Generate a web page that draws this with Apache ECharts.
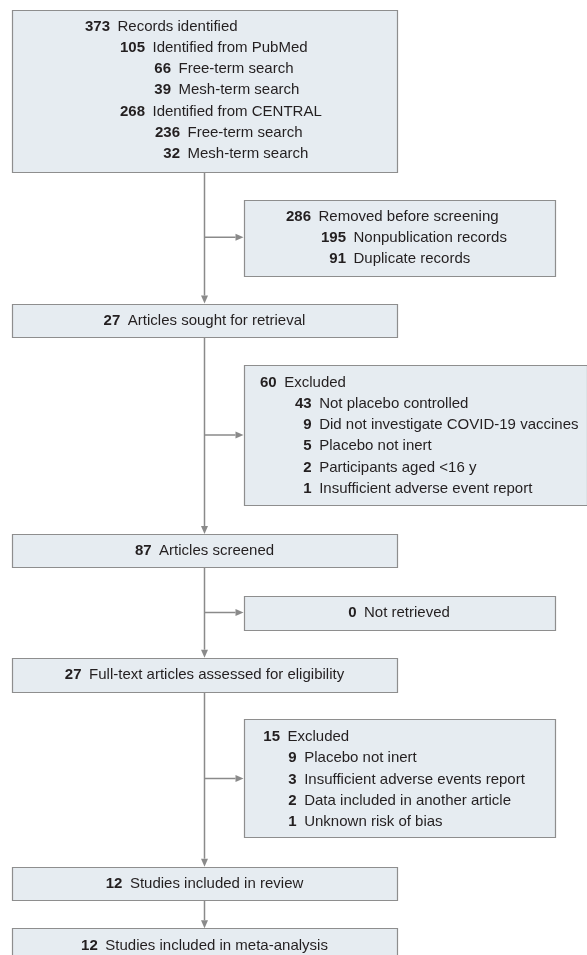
<!DOCTYPE html>
<html><head><meta charset="utf-8">
<script src="https://cdn.jsdelivr.net/npm/echarts@6/dist/echarts.min.js"></script>
<style>html,body{margin:0;padding:0;background:#fff}#c{width:587px;height:955px}</style>
</head><body><div id="c"></div>
<script>
// ---------- data ----------
const identifiedCounts = [373, 105, 66, 39, 268, 236, 32];
const identifiedLabels = ['Records identified', 'Identified from PubMed', 'Free-term search', 'Mesh-term search', 'Identified from CENTRAL', 'Free-term search', 'Mesh-term search'];
const removedCounts = [286, 195, 91];
const removedLabels = ['Removed before screening', 'Nonpublication records', 'Duplicate records'];
const excluded1Counts = [60, 43, 9, 5, 2, 1];
const excluded1Labels = ['Excluded', 'Not placebo controlled', 'Did not investigate COVID-19 vaccines', 'Placebo not inert', 'Participants aged <16 y', 'Insufficient adverse event report'];
const excluded2Counts = [15, 9, 3, 2, 1];
const excluded2Labels = ['Excluded', 'Placebo not inert', 'Insufficient adverse events report', 'Data included in another article', 'Unknown risk of bias'];
const mainCounts = [27, 87, 27, 12, 12];
const mainLabels = ['Articles sought for retrieval', 'Articles screened', 'Full-text articles assessed for eligibility', 'Studies included in review', 'Studies included in meta-analysis'];
const notRetrievedCounts = [0];
const notRetrievedLabels = ['Not retrieved'];

// ---------- layout & style ----------
const W = 587, H = 955;
const FONT = '"Liberation Sans", Arial, sans-serif';
const FS = 15;
const TEXT_COLOR = '#231f20';
const FILL = '#e6ecf1';
const BORDER = '#8e8e8e';
const LINE = '#8a8a8a';
const MAIN_X = 204.5;
const GAP = 7.5;

const boxes = [
  { id: 'identified', x0: 12, x1: 397, y0: 9.5, y1: 171, list: true, counts: identifiedCounts, labels: identifiedLabels, rowY0: 27, step: 21.1, numRight: [110, 145, 171, 171, 145, 180, 180] },
  { id: 'removed', x0: 243.5, x1: 554.5, y0: 199.5, y1: 275, list: true, counts: removedCounts, labels: removedLabels, rowY0: 216.7, step: 21.2, numRight: [311, 346, 346] },
  { id: 'sought', x0: 12, x1: 397, y0: 303.5, y1: 336.7, counts: [mainCounts[0]], labels: [mainLabels[0]] },
  { id: 'excluded1', x0: 243.5, x1: 586, y0: 365, y1: 505, list: true, counts: excluded1Counts, labels: excluded1Labels, rowY0: 382.7, step: 21.2, numRight: [276.7, 311.7, 311.7, 311.7, 311.7, 311.7] },
  { id: 'screened', x0: 12, x1: 397, y0: 534, y1: 567.3, counts: [mainCounts[1]], labels: [mainLabels[1]] },
  { id: 'notRetrieved', x0: 243.5, x1: 554.5, y0: 595.7, y1: 629.3, counts: notRetrievedCounts, labels: notRetrievedLabels },
  { id: 'fulltext', x0: 12, x1: 397, y0: 657.7, y1: 691.5, counts: [mainCounts[2]], labels: [mainLabels[2]] },
  { id: 'excluded2', x0: 243.5, x1: 554.5, y0: 719.3, y1: 837.7, list: true, counts: excluded2Counts, labels: excluded2Labels, rowY0: 736.7, step: 21.4, numRight: [280, 296.7, 296.7, 296.7, 296.7] },
  { id: 'review', x0: 12, x1: 397, y0: 866.7, y1: 900, counts: [mainCounts[3]], labels: [mainLabels[3]] },
  { id: 'meta', x0: 12, x1: 397, y0: 928.3, y1: 962, counts: [mainCounts[4]], labels: [mainLabels[4]] }
];
const byId = {};
boxes.forEach(b => byId[b.id] = b);

const mainChain = ['identified', 'sought', 'screened', 'fulltext', 'review', 'meta'];
const branches = [['identified', 'removed'], ['sought', 'excluded1'], ['screened', 'notRetrieved'], ['fulltext', 'excluded2']];

// connectors derived from box edges
const connectors = [];
for (let i = 0; i < mainChain.length - 1; i++) {
  const a = byId[mainChain[i]], b = byId[mainChain[i + 1]];
  connectors.push({ from: [MAIN_X, a.y1], to: [MAIN_X, b.y0] });
}
branches.forEach(([m, s]) => {
  const sb = byId[s];
  const yc = (sb.y0 + sb.y1) / 2;
  connectors.push({ from: [MAIN_X, yc], to: [sb.x0, yc] });
});

function renderBox(params, api) {
  const b = boxes[api.value(0)];
  const p0 = api.coord([b.x0, b.y0]);
  const p1 = api.coord([b.x1, b.y1]);
  const children = [{
    type: 'rect',
    shape: { x: Math.round(p0[0]) + 0.5, y: Math.round(p0[1]) + 0.5, width: Math.round(p1[0] - p0[0]), height: Math.round(p1[1] - p0[1]) },
    style: { fill: FILL, stroke: BORDER, lineWidth: 1.2 }
  }];
  if (b.list) {
    b.counts.forEach((c, i) => {
      const y = b.rowY0 + i * b.step;
      const pn = api.coord([b.numRight[i], y]);
      const pt = api.coord([b.numRight[i] + GAP, y]);
      children.push({ type: 'text', style: { x: pn[0], y: pn[1], text: String(c), fill: TEXT_COLOR, font: 'bold ' + FS + 'px ' + FONT, align: 'right', verticalAlign: 'middle' } });
      children.push({ type: 'text', style: { x: pt[0], y: pt[1], text: b.labels[i], fill: TEXT_COLOR, font: FS + 'px ' + FONT, align: 'left', verticalAlign: 'middle' } });
    });
  } else {
    const pc = api.coord([(b.x0 + b.x1) / 2, (b.y0 + b.y1) / 2 + 0.5]);
    children.push({
      type: 'text',
      style: {
        x: pc[0], y: pc[1],
        text: '{n|' + b.counts[0] + '}{t|' + b.labels[0] + '}',
        align: 'center', verticalAlign: 'middle',
        rich: {
          n: { font: 'bold ' + FS + 'px ' + FONT, fill: TEXT_COLOR, padding: [0, GAP, 0, 0] },
          t: { font: FS + 'px ' + FONT, fill: TEXT_COLOR }
        }
      }
    });
  }
  return { type: 'group', children };
}

function renderConnector(params, api) {
  const c = connectors[api.value(0)];
  const a = api.coord(c.from), b = api.coord(c.to);
  const dx = b[0] - a[0], dy = b[1] - a[1];
  const len = Math.hypot(dx, dy);
  const ux = dx / len, uy = dy / len;
  const hl = 8, hw = 3.5;
  const base = [b[0] - ux * hl, b[1] - uy * hl];
  return {
    type: 'group',
    children: [
      { type: 'line', shape: { x1: a[0], y1: a[1], x2: base[0], y2: base[1] }, style: { stroke: LINE, lineWidth: 1.5 } },
      { type: 'polygon', shape: { points: [[b[0], b[1]], [base[0] - uy * hw, base[1] + ux * hw], [base[0] + uy * hw, base[1] - ux * hw]] }, style: { fill: LINE } }
    ]
  };
}

const chart = echarts.init(document.getElementById('c'), null, { renderer: 'canvas' });
chart.setOption({
  animation: false,
  backgroundColor: '#ffffff',
  grid: { left: 0, right: 0, top: 0, bottom: 0 },
  xAxis: { type: 'value', min: 0, max: W, show: false },
  yAxis: { type: 'value', min: 0, max: H, inverse: true, show: false },
  series: [
    { type: 'custom', coordinateSystem: 'cartesian2d', renderItem: renderConnector, data: connectors.map((c, i) => [i]), encode: { x: 0, y: 0 }, silent: true, clip: false, z: 1 },
    { type: 'custom', coordinateSystem: 'cartesian2d', renderItem: renderBox, data: boxes.map((b, i) => [i]), encode: { x: 0, y: 0 }, silent: true, clip: false, z: 2 }
  ]
});
</script></body></html>
